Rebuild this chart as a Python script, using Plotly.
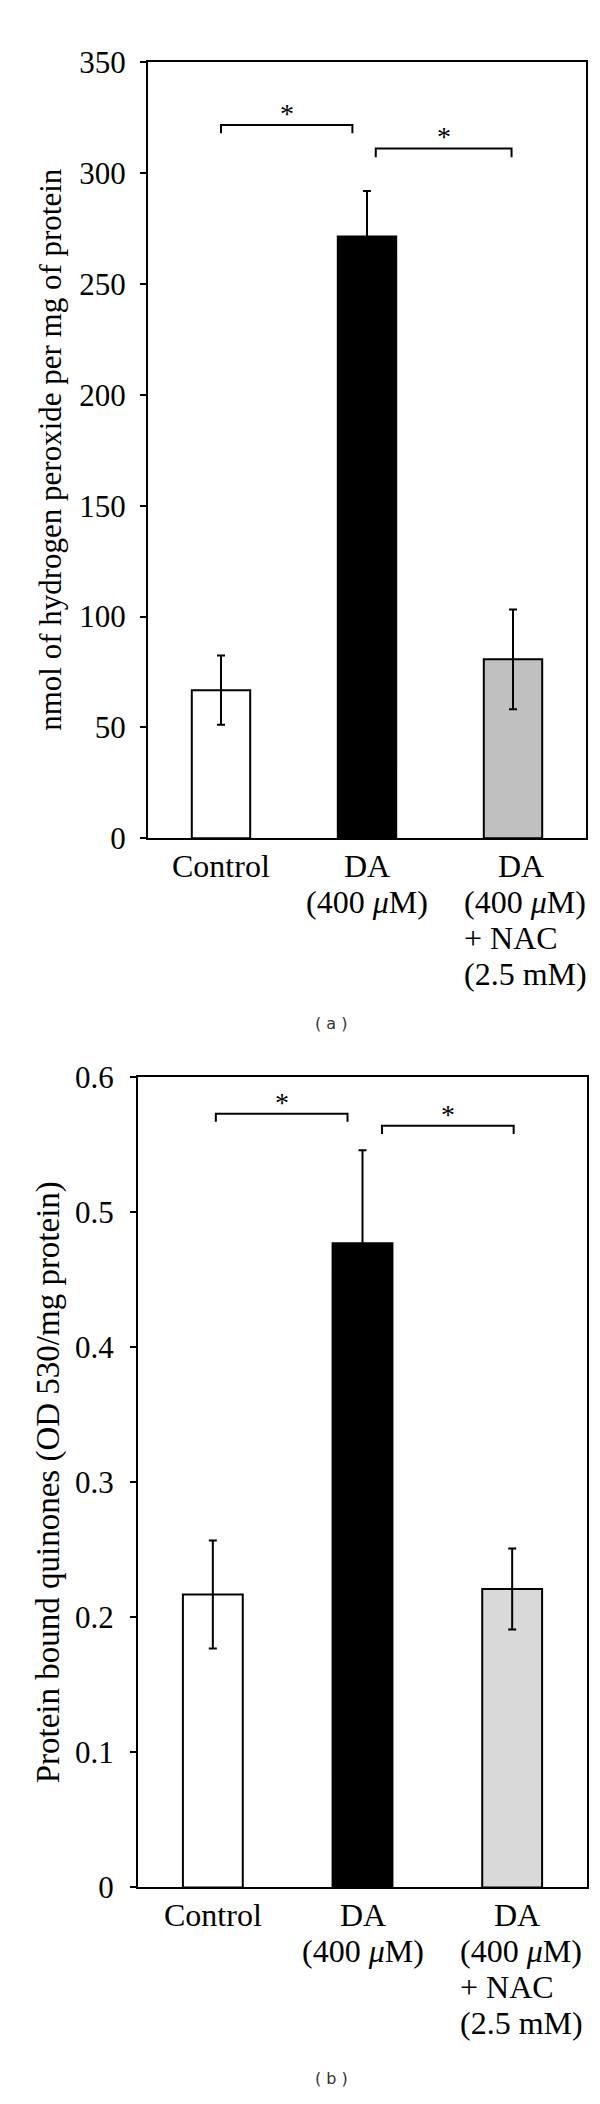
import plotly.graph_objects as go

categories = ["Control", "DA (400 μM)", "DA (400 μM) + NAC (2.5 mM)"]
label_lines = [
    ["Control"],
    ["DA", "(400 <i>μ</i>M)"],
    ["DA", "(400 <i>μ</i>M)", "+ NAC", "(2.5 mM)"],
]

h2o2_mean = [66.8, 271.5, 80.7]
h2o2_err = [15.6, 20.5, 22.5]
h2o2_colors = ["#ffffff", "#000000", "#c0c0c0"]

quinone_mean = [0.217, 0.477, 0.221]
quinone_err = [0.040, 0.069, 0.030]
quinone_colors = ["#ffffff", "#000000", "#d9d9d9"]

# significance brackets: start category, end category, height, leg bottom
h2o2_br_x0 = [0.0, 1.06]
h2o2_br_x1 = [0.9, 1.99]
h2o2_br_y = [321.8, 311.2]
h2o2_br_leg = [318.0, 307.2]

quin_br_x0 = [0.02, 1.13]
quin_br_x1 = [0.9, 2.01]
quin_br_y = [0.573, 0.564]
quin_br_leg = [0.567, 0.558]

W, H = 600, 2104
SERIF = "Liberation Serif, Times New Roman, serif"
xpos = list(range(len(categories)))

fig = go.Figure()


def add_panel(xa, ya, means, errs, colors, bx0, bx1, by, bleg, block_shift):
    fig.add_trace(go.Bar(
        x=xpos, y=means, width=0.4, xaxis=xa, yaxis=ya,
        marker=dict(color=colors, line=dict(color="black", width=2)),
        error_y=dict(type="data", array=errs, visible=True, color="black",
                     thickness=2, width=4),
        showlegend=False, hoverinfo="skip"))
    for a, b, y, l in zip(bx0, bx1, by, bleg):
        fig.add_trace(go.Scatter(
            x=[a, a, b, b], y=[l, y, y, l], mode="lines", xaxis=xa, yaxis=ya,
            line=dict(color="black", width=2), showlegend=False, hoverinfo="skip"))
        fig.add_annotation(x=(a + b) / 2, y=y, xref=xa, yref=ya, text="*",
                           showarrow=False, yanchor="bottom", yshift=-6,
                           font=dict(family=SERIF, size=28, color="black"))
    # category labels, one line per annotation
    for i, lines in enumerate(label_lines):
        for j, line in enumerate(lines):
            multi = len(lines) > 2
            if multi and j > 0:
                anchor, xs = "left", block_shift[0]
            elif multi:
                anchor, xs = "center", block_shift[1]
            else:
                anchor, xs = "center", 0
            fig.add_annotation(x=xpos[i], y=0, xref=xa, yref=ya + " domain",
                               text=line, showarrow=False, xanchor=anchor,
                               yanchor="middle", xshift=xs, yshift=-(28 + 36 * j),
                               font=dict(family=SERIF, size=32, color="black"))


add_panel("x", "y", h2o2_mean, h2o2_err, h2o2_colors,
          h2o2_br_x0, h2o2_br_x1, h2o2_br_y, h2o2_br_leg, (-51, 8))
add_panel("x2", "y2", quinone_mean, quinone_err, quinone_colors,
          quin_br_x0, quin_br_x1, quin_br_y, quin_br_leg, (-54, 5))

axis_common = dict(showline=True, linecolor="black", linewidth=2, mirror=True,
                   showgrid=False, zeroline=False,
                   tickfont=dict(family=SERIF, size=31, color="black"))

fig.update_layout(
    width=W, height=H, margin=dict(l=0, r=0, t=0, b=0),
    paper_bgcolor="white", plot_bgcolor="white",
    xaxis=dict(domain=[140 / W, 578 / W], anchor="y", range=[-0.5, 2.5],
               showticklabels=False, ticks="", **axis_common),
    yaxis=dict(domain=[1 - 827 / H, 1 - 38 / H], anchor="x", range=[0, 350],
               dtick=50, ticks="outside", ticklen=6, tickwidth=2, tickcolor="black",
               ticklabelstandoff=8, **axis_common),
    xaxis2=dict(domain=[130 / W, 579 / W], anchor="y2", range=[-0.5, 2.5],
                showticklabels=False, ticks="", **axis_common),
    yaxis2=dict(domain=[1 - 1894 / H, 1 - 1070 / H], anchor="x2", range=[0, 0.6],
                dtick=0.1, ticks="outside", ticklen=6, tickwidth=2, tickcolor="black",
                ticklabelstandoff=10, **axis_common),
)

fig.add_annotation(x=43 / W, y=1 - 432 / H, xref="paper", yref="paper",
                   text="nmol of hydrogen peroxide per mg of protein",
                   textangle=-90, showarrow=False, xanchor="center", yanchor="middle",
                   font=dict(family=SERIF, size=31, color="black"))
fig.add_annotation(x=40 / W, y=1 - 1482 / H, xref="paper", yref="paper",
                   text="Protein bound quinones (OD 530/mg protein)",
                   textangle=-90, showarrow=False, xanchor="center", yanchor="middle",
                   font=dict(family=SERIF, size=33, color="black"))
for txt, yy in [("( a )", 1015), ("( b )", 2088)]:
    fig.add_annotation(x=323 / W, y=1 - yy / H, xref="paper", yref="paper",
                       text=txt, showarrow=False, xanchor="center", yanchor="middle",
                       font=dict(family="DejaVu Sans, sans-serif", size=16, color="#333333"))

fig.write_html("out.html")
